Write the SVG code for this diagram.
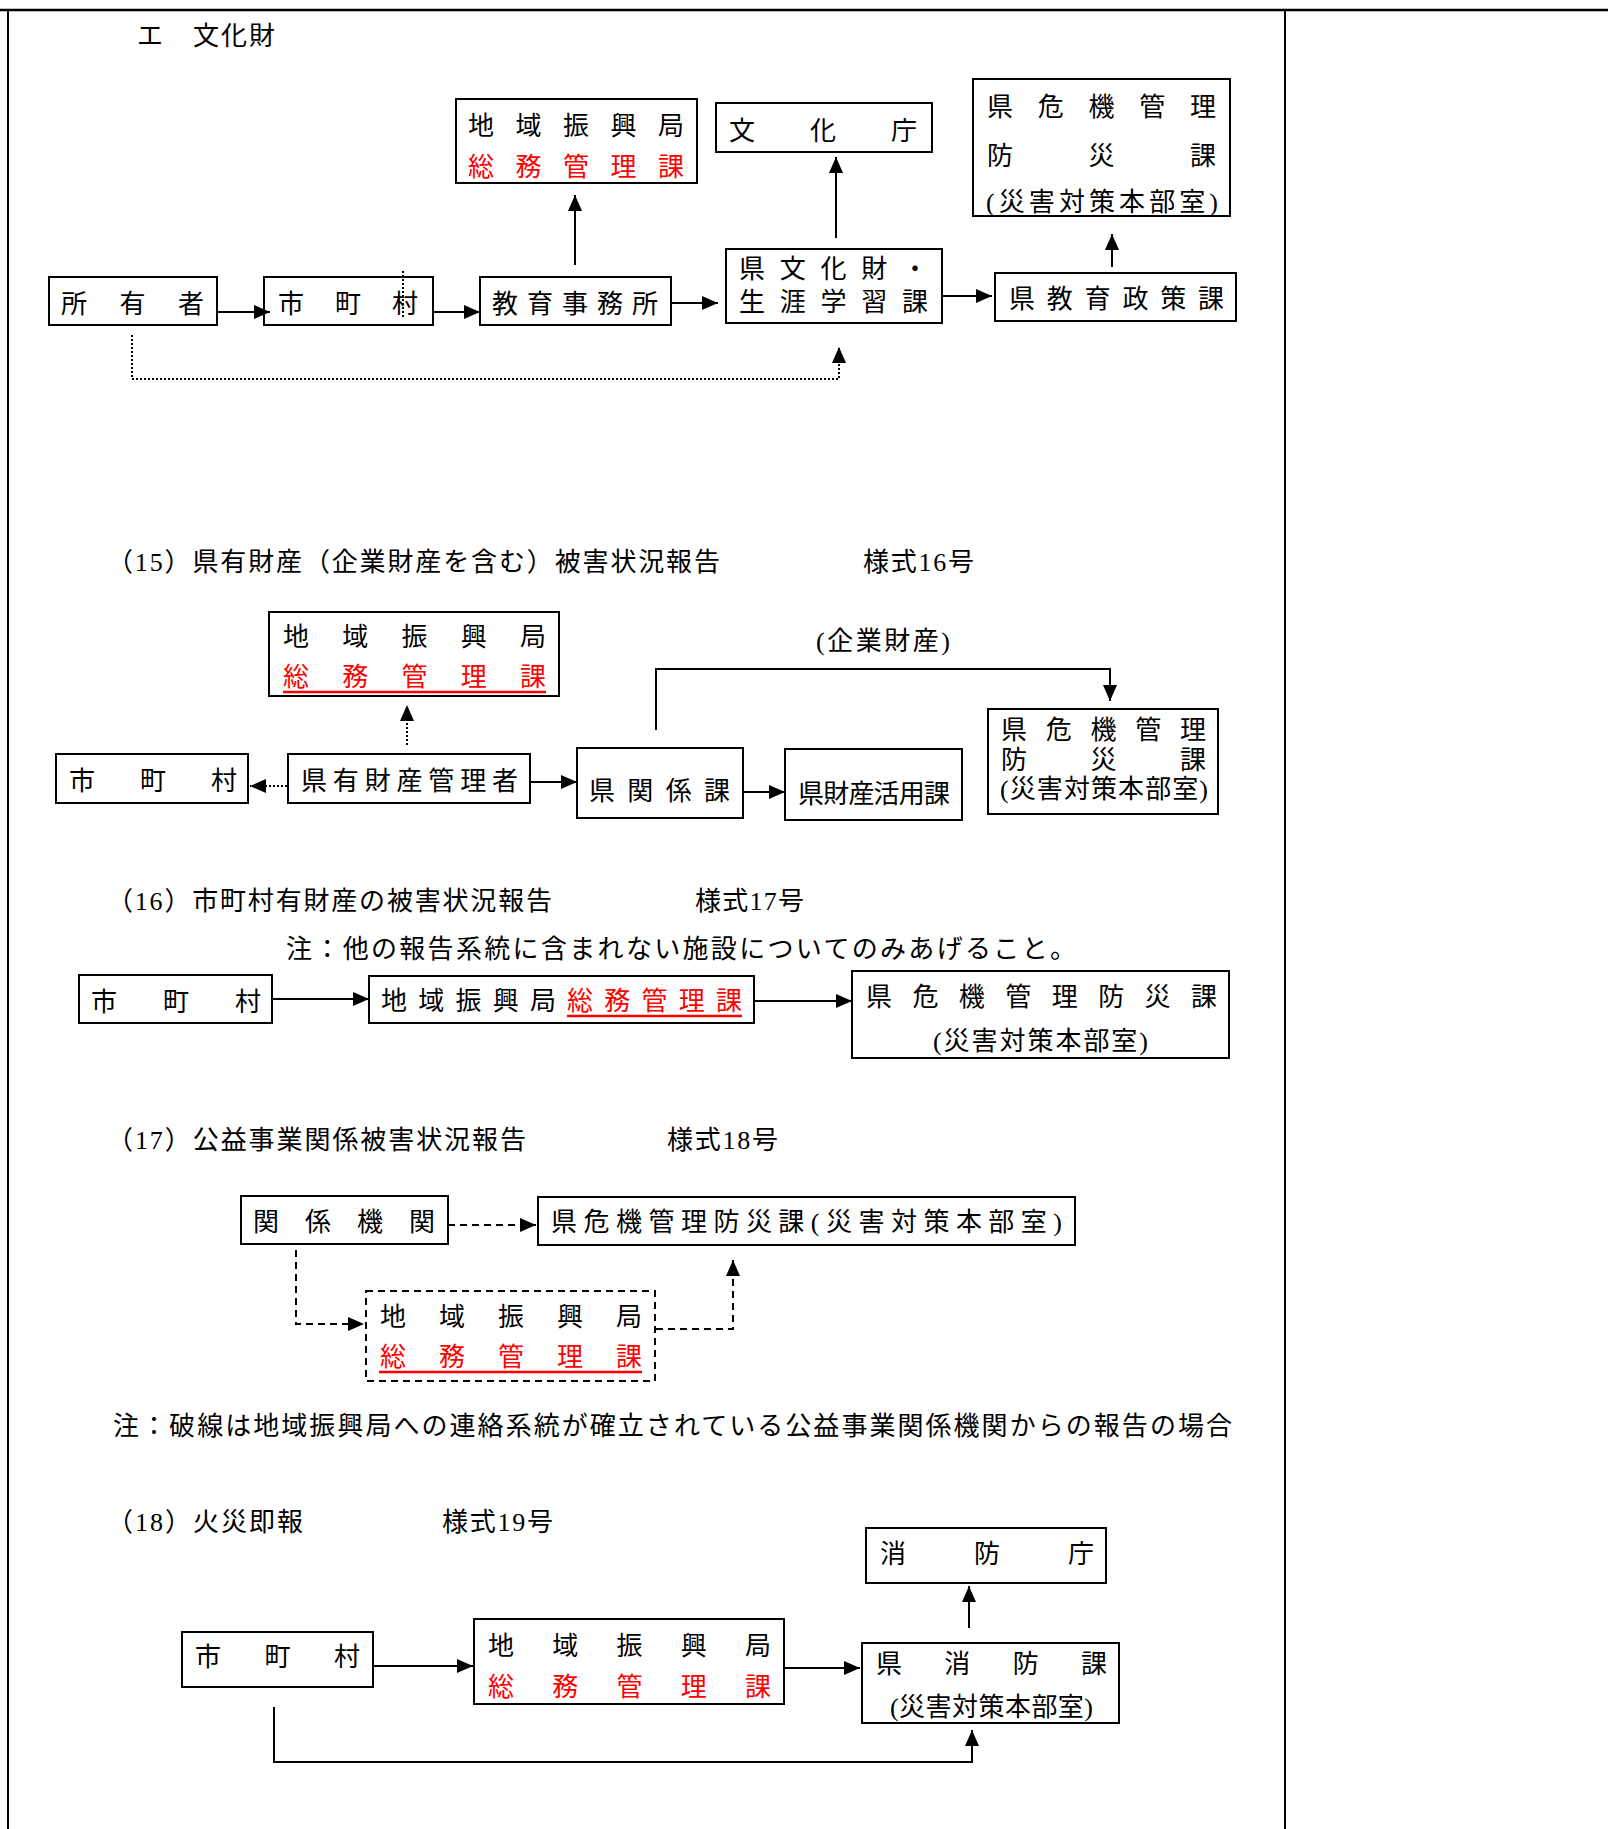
<svg xmlns="http://www.w3.org/2000/svg" width="1608" height="1829" viewBox="0 0 1608 1829">
<style>
.t{font-family:"Liberation Serif","Noto Sans CJK JP","Noto Sans CJK SC",serif;font-size:26px;fill:#000}
.r{fill:#f00}
.b{fill:#fff;stroke:#000;stroke-width:2}
.bd{fill:#fff;stroke:#000;stroke-width:2;stroke-dasharray:7 5}
.c{fill:none;stroke:#000;stroke-width:2}
.dot{stroke-dasharray:2 2}
.dash{stroke-dasharray:7 5}
.u{stroke:#f00;stroke-width:2.5}
.f{stroke:#000;fill:none}
</style>
<defs>
<marker id="ah" markerUnits="userSpaceOnUse" markerWidth="17" markerHeight="15" refX="16" refY="7" orient="auto">
<path d="M0,0 L16,7 L0,14 z" fill="#000"/>
</marker>
</defs>
<rect width="1608" height="1829" fill="#fff"/>
<g id="frame">
<line class="f" x1="0" y1="10" x2="1608" y2="10" stroke-width="2.5"/>
<line class="f" x1="8" y1="10" x2="8" y2="1829" stroke-width="2"/>
<line class="f" x1="1285" y1="10" x2="1285" y2="1829" stroke-width="2"/>
</g>

<!-- Titles and notes -->
<g id="titles">
<text class="t" x="137" y="45" textLength="138">エ　文化財</text>
<text class="t" x="107" y="571" textLength="613">（15）県有財産（企業財産を含む）被害状況報告</text>
<text class="t" x="863" y="571" textLength="111">様式16号</text>
<text class="t" x="816" y="650" textLength="134">(企業財産)</text>
<text class="t" x="107" y="910" textLength="445">（16）市町村有財産の被害状況報告</text>
<text class="t" x="695" y="910" textLength="109">様式17号</text>
<text class="t" x="286" y="958" textLength="790">注：他の報告系統に含まれない施設についてのみあげること。</text>
<text class="t" x="107" y="1149" textLength="419">（17）公益事業関係被害状況報告</text>
<text class="t" x="667" y="1149" textLength="111">様式18号</text>
<text class="t" x="113" y="1435" textLength="1119">注：破線は地域振興局への連絡系統が確立されている公益事業関係機関からの報告の場合</text>
<text class="t" x="107" y="1531" textLength="196">（18）火災即報</text>
<text class="t" x="442" y="1531" textLength="111">様式19号</text>
</g>

<!-- Section E nodes -->
<g id="e-chiiki">
<rect class="b" x="456" y="99" width="241" height="84"/>
<text class="t" x="468" y="135" textLength="216">地域振興局</text>
<text class="t r" x="468" y="176" textLength="216">総務管理課</text>
</g>
<g id="e-bunkacho">
<rect class="b" x="716" y="103" width="216" height="49"/>
<text class="t" x="729" y="140" textLength="188">文化庁</text>
</g>
<g id="e-kiki">
<rect class="b" x="973" y="79" width="257" height="137"/>
<text class="t" x="987" y="116" textLength="229">県危機管理</text>
<text class="t" x="987" y="165" textLength="229">防災課</text>
<text class="t" x="986" y="211" textLength="232">(災害対策本部室)</text>
</g>
<g id="e-shoyusha">
<rect class="b" x="49" y="277" width="168" height="48"/>
<text class="t" x="61" y="313" textLength="143">所有者</text>
</g>
<g id="e-shichoson">
<rect class="b" x="264" y="277" width="169" height="48"/>
<text class="t" x="278" y="313" textLength="140">市町村</text>
</g>
<g id="e-kyoiku">
<rect class="b" x="480" y="277" width="191" height="48"/>
<text class="t" x="492" y="313" textLength="166">教育事務所</text>
</g>
<g id="e-bunkazai">
<rect class="b" x="726" y="249" width="216" height="74"/>
<text class="t" x="739" y="278" textLength="189">県文化財・</text>
<text class="t" x="739" y="311" textLength="189">生涯学習課</text>
</g>
<g id="e-seisaku">
<rect class="b" x="995" y="273" width="241" height="48"/>
<text class="t" x="1009" y="308" textLength="215">県教育政策課</text>
</g>

<!-- Section 15 nodes -->
<g id="s15-chiiki">
<rect class="b" x="269" y="612" width="290" height="84"/>
<text class="t" x="283" y="646" textLength="263">地域振興局</text>
<text class="t r" x="283" y="686" textLength="263">総務管理課</text>
<line class="u" x1="283" y1="692" x2="546" y2="692"/>
</g>
<g id="s15-shichoson">
<rect class="b" x="56" y="754" width="192" height="49"/>
<text class="t" x="69" y="790" textLength="168">市町村</text>
</g>
<g id="s15-kanrisha">
<rect class="b" x="288" y="754" width="242" height="49"/>
<text class="t" x="301" y="790" textLength="217">県有財産管理者</text>
</g>
<g id="s15-kankei">
<rect class="b" x="577" y="748" width="166" height="70"/>
<text class="t" x="589" y="800" textLength="141">県関係課</text>
</g>
<g id="s15-katsuyo">
<rect class="b" x="785" y="749" width="177" height="71"/>
<text class="t" x="798" y="803" textLength="152">県財産活用課</text>
</g>
<g id="s15-kiki">
<rect class="b" x="988" y="709" width="230" height="105"/>
<text class="t" x="1001" y="739" textLength="205">県危機管理</text>
<text class="t" x="1001" y="768.5" textLength="205">防災課</text>
<text class="t" x="1000" y="798" textLength="208">(災害対策本部室)</text>
</g>

<!-- Section 16 nodes -->
<g id="s16-shichoson">
<rect class="b" x="79" y="975" width="193" height="48"/>
<text class="t" x="91" y="1011" textLength="170">市町村</text>
</g>
<g id="s16-chiiki">
<rect class="b" x="369" y="976" width="385" height="47"/>
<text class="t" x="381" y="1010" textLength="361">地域振興局<tspan class="r">総務管理課</tspan></text>
<line class="u" x1="567" y1="1016" x2="742" y2="1016"/>
</g>
<g id="s16-kiki">
<rect class="b" x="852" y="971" width="377" height="87"/>
<text class="t" x="866" y="1006" textLength="351">県危機管理防災課</text>
<text class="t" x="933" y="1050" textLength="215">(災害対策本部室)</text>
</g>

<!-- Section 17 nodes -->
<g id="s17-kankei">
<rect class="b" x="241" y="1196" width="207" height="48"/>
<text class="t" x="253" y="1231" textLength="182">関係機関</text>
</g>
<g id="s17-kiki">
<rect class="b" x="538" y="1197" width="537" height="48"/>
<text class="t" x="551" y="1231" textLength="511">県危機管理防災課(災害対策本部室)</text>
</g>
<g id="s17-chiiki">
<rect class="bd" x="366" y="1291" width="289" height="90"/>
<text class="t" x="380" y="1326" textLength="262">地域振興局</text>
<text class="t r" x="380" y="1366" textLength="262">総務管理課</text>
<line class="u" x1="379" y1="1372" x2="642" y2="1372"/>
</g>

<!-- Section 18 nodes -->
<g id="s18-shobocho">
<rect class="b" x="866" y="1528" width="240" height="55"/>
<text class="t" x="880" y="1563" textLength="214">消防庁</text>
</g>
<g id="s18-shichoson">
<rect class="b" x="182" y="1632" width="191" height="55"/>
<text class="t" x="195" y="1666" textLength="165">市町村</text>
</g>
<g id="s18-chiiki">
<rect class="b" x="474" y="1619" width="310" height="85"/>
<text class="t" x="488" y="1655" textLength="283">地域振興局</text>
<text class="t r" x="488" y="1696" textLength="283">総務管理課</text>
</g>
<g id="s18-shobo">
<rect class="b" x="862" y="1643" width="257" height="80"/>
<text class="t" x="876" y="1673" textLength="231">県消防課</text>
<text class="t" x="890" y="1716" textLength="203">(災害対策本部室)</text>
</g>

<!-- Connectors -->
<g id="connectors">
<!-- E -->
<line class="c" x1="217" y1="312" x2="270" y2="312" marker-end="url(#ah)"/>
<line class="c" x1="433" y1="312" x2="480" y2="312" marker-end="url(#ah)"/>
<line class="c" x1="671" y1="303" x2="718" y2="303" marker-end="url(#ah)"/>
<line class="c" x1="942" y1="296" x2="992" y2="296" marker-end="url(#ah)"/>
<line class="c" x1="575" y1="265" x2="575" y2="195" marker-end="url(#ah)"/>
<line class="c" x1="836" y1="238" x2="836" y2="157" marker-end="url(#ah)"/>
<line class="c" x1="1112" y1="267" x2="1112" y2="234" marker-end="url(#ah)"/>
<polyline class="c dot" points="132,335 132,379 839,379 839,347" marker-end="url(#ah)"/>
<line class="c dot" x1="403" y1="271" x2="403" y2="317"/>
<!-- 15 -->
<line class="c dot" x1="407" y1="745" x2="407" y2="705" marker-end="url(#ah)"/>
<line class="c dot" x1="287" y1="786" x2="250" y2="786" marker-end="url(#ah)"/>
<line class="c" x1="530" y1="782" x2="577" y2="782" marker-end="url(#ah)"/>
<line class="c" x1="743" y1="792" x2="785" y2="792" marker-end="url(#ah)"/>
<polyline class="c" points="656,730 656,669 1110,669 1110,701" marker-end="url(#ah)"/>
<!-- 16 -->
<line class="c" x1="272" y1="999" x2="369" y2="999" marker-end="url(#ah)"/>
<line class="c" x1="754" y1="1001" x2="852" y2="1001" marker-end="url(#ah)"/>
<!-- 17 -->
<line class="c dash" x1="448" y1="1225" x2="536" y2="1225" marker-end="url(#ah)"/>
<polyline class="c dash" points="296,1250 296,1324 364,1324" marker-end="url(#ah)"/>
<polyline class="c dash" points="656,1329 733,1329 733,1260" marker-end="url(#ah)"/>
<!-- 18 -->
<line class="c" x1="969" y1="1628" x2="969" y2="1586" marker-end="url(#ah)"/>
<line class="c" x1="373" y1="1666" x2="473" y2="1666" marker-end="url(#ah)"/>
<line class="c" x1="784" y1="1668" x2="860" y2="1668" marker-end="url(#ah)"/>
<polyline class="c" points="274,1707 274,1762 972,1762 972,1730" marker-end="url(#ah)"/>
</g>
</svg>
